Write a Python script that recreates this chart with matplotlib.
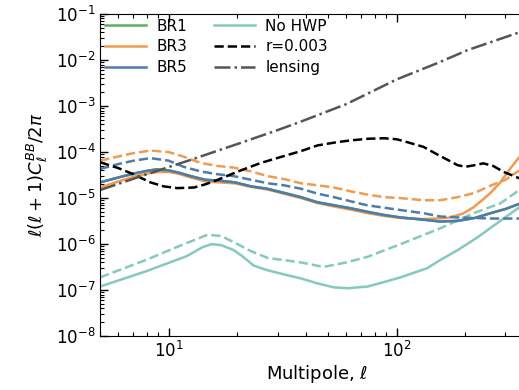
import numpy as np
import matplotlib
matplotlib.use('Agg')
import matplotlib.pyplot as plt
from matplotlib.ticker import LogLocator, NullFormatter

# --- values (multipole, D_ell^BB) ---
ell_lens = [5, 8, 12.5, 20, 30, 38, 60, 100, 150, 205, 345]
lensing = [1.5e-5, 3.3e-5, 6.8e-5, 1.5e-4, 3e-4, 4.6e-4, 1.1e-3, 3.8e-3, 8.5e-3, 1.65e-2, 4e-2]

ell_r = [5, 6, 7, 8.3, 9.5, 10.9, 12.9, 14.5, 16.4, 18.5, 20.7, 25.3, 32, 38, 45, 55,
         63, 75, 88, 100, 111, 131, 150, 167, 185, 200, 220, 240, 265, 295, 345]
r003 = [6e-5, 4.5e-5, 3.3e-5, 2.2e-5, 1.8e-5, 1.65e-5, 1.7e-5, 2e-5, 2.5e-5, 3.2e-5, 4e-5,
        5.8e-5, 8.2e-5, 1.05e-4, 1.4e-4, 1.65e-4, 1.8e-4, 1.95e-4, 2e-4, 1.9e-4, 1.65e-4,
        1.3e-4, 9e-5, 6.8e-5, 5.2e-5, 4.8e-5, 5.2e-5, 5.7e-5, 5e-5, 3.7e-5, 2.7e-5]

ell_br5 = [5, 6, 7, 8, 8.8, 10, 11, 12.5, 14.5, 16.6, 19.5, 23, 27, 32, 38, 45, 53, 63,
           75, 88, 104, 131, 155, 185, 220, 258, 300, 345]
br5_solid = [2.2e-5, 2.8e-5, 3.4e-5, 3.9e-5, 4.2e-5, 4e-5, 3.6e-5, 3e-5, 2.5e-5, 2.4e-5,
             2.2e-5, 1.8e-5, 1.6e-5, 1.3e-5, 1.05e-5, 8.1e-6, 7e-6, 6e-6, 5e-6, 4.3e-6,
             3.8e-6, 3.4e-6, 3.1e-6, 3.2e-6, 3.7e-6, 4.7e-6, 5.8e-6, 7.5e-6]
br1_solid = br5_solid  # hidden under BR5 in the reference

ell_dash = [5, 6, 7, 8.3, 10, 11.6, 13.8, 16.4, 19.3, 23, 27.2, 32, 38, 45, 53, 63, 74,
            88, 104, 131, 155, 185, 220, 260, 300, 345]
br5_dash = [4.3e-5, 5.5e-5, 6.5e-5, 7.4e-5, 6.5e-5, 4.8e-5, 3.8e-5, 3.3e-5, 3e-5, 2.5e-5,
            2.1e-5, 1.9e-5, 1.6e-5, 1.25e-5, 1.05e-5, 8.5e-6, 7e-6, 6.2e-6, 5.5e-6, 4.7e-6,
            4e-6, 3.8e-6, 3.7e-6, 3.6e-6, 3.6e-6, 3.6e-6]
br3_dash = [6.5e-5, 8e-5, 9.5e-5, 1.08e-4, 1e-4, 8e-5, 5.8e-5, 5e-5, 4.6e-5, 3.8e-5, 3e-5,
            2.6e-5, 2.1e-5, 1.9e-5, 1.7e-5, 1.4e-5, 1.2e-5, 1.05e-5, 1e-5, 9e-6, 9e-6,
            1.05e-5, 1.3e-5, 1.9e-5, 2.5e-5, 4e-5]

ell_br3 = [5, 6, 7, 8, 9, 10, 11, 12.5, 14.5, 16.6, 19.5, 23, 27, 32, 38, 45, 53, 63, 75,
           88, 104, 131, 167, 195, 217, 240, 258, 285, 316, 345]
br3_solid = [1.7e-5, 2.3e-5, 2.9e-5, 3.4e-5, 3.7e-5, 3.7e-5, 3.4e-5, 2.8e-5, 2.3e-5, 2.2e-5,
             2.1e-5, 1.75e-5, 1.55e-5, 1.25e-5, 1e-5, 7.8e-6, 6.6e-6, 5.6e-6, 4.7e-6,
             4.1e-6, 3.7e-6, 3.5e-6, 3.7e-6, 4.6e-6, 6.3e-6, 9.5e-6, 1.3e-5, 2.2e-5,
             4.5e-5, 7.8e-5]

ell_nohwp = [5, 8, 12, 14, 15.4, 17, 19.3, 21, 23.6, 27.2, 32, 38, 45, 53, 61, 74.5, 88,
             104, 136, 155, 185, 226, 277, 345]
nohwp_solid = [1.2e-7, 2.6e-7, 5.5e-7, 8.5e-7, 1e-6, 9.5e-7, 7.4e-7, 5.5e-7, 3.4e-7,
               2.7e-7, 2.2e-7, 1.8e-7, 1.4e-7, 1.15e-7, 1.1e-7, 1.2e-7, 1.5e-7, 1.9e-7,
               3e-7, 4.5e-7, 7.4e-7, 1.4e-6, 2.9e-6, 6.3e-6]
ell_nohwp_d = [5, 8, 11, 14.8, 17, 19.3, 23, 27.2, 32, 38, 47.8, 60, 74.5, 104, 155, 217,
               285, 345]
nohwp_dash = [1.9e-7, 4.6e-7, 8.9e-7, 1.6e-6, 1.5e-6, 1.1e-6, 7e-7, 5e-7, 4.5e-7, 4e-7,
              3.2e-7, 4e-7, 5.3e-7, 1e-6, 2.2e-6, 4.7e-6, 7.7e-6, 1.5e-5]

c_br1 = '#5cb15c'
c_br3 = '#f29a4e'
c_br5 = '#4f7bab'
c_nohwp = '#84cabc'

fig = plt.figure(figsize=(5.19, 3.90), dpi=100)
# the reference is cropped on the right, so the axes run to the figure edge
ax = fig.add_axes([0.193, 0.138, 0.807, 0.826])

lw = 1.8
ax.plot(ell_nohwp_d, nohwp_dash, color=c_nohwp, ls='--', lw=lw)
ax.plot(ell_nohwp, nohwp_solid, color=c_nohwp, lw=lw)
ax.plot(ell_br3, br3_solid, color=c_br3, lw=lw)
ax.plot(ell_dash, br3_dash, color=c_br3, ls='--', lw=lw)
ax.plot(ell_br5, br1_solid, color=c_br1, lw=lw)
ax.plot(ell_br5, br5_solid, color=c_br5, lw=lw)
ax.plot(ell_dash, br5_dash, color=c_br5, ls='--', lw=lw)
ax.plot(ell_r, r003, color='black', ls='--', lw=lw)
ax.plot(ell_lens, lensing, color='#555555', ls='-.', lw=lw)

# legend-only handles
h1, = ax.plot([], [], color=c_br1, lw=lw, label='BR1')
h3, = ax.plot([], [], color=c_br3, lw=lw, label='BR3')
h5, = ax.plot([], [], color=c_br5, lw=lw, label='BR5')
hn, = ax.plot([], [], color=c_nohwp, lw=lw, label='No HWP')
hr, = ax.plot([], [], color='black', ls='--', lw=lw, label='r=0.003')
hl, = ax.plot([], [], color='#555555', ls='-.', lw=lw, label='lensing')

ax.legend(handles=[h1, h3, h5, hn, hr, hl], ncol=2, loc='upper left', frameon=False,
          fontsize=11, handlelength=2.7, columnspacing=1.7, labelspacing=0.38,
          borderaxespad=0.05, borderpad=0.25, handletextpad=0.7)

ax.set_xscale('log')
ax.set_yscale('log')
ax.set_xlim(5, 344)
ax.set_ylim(1e-8, 1e-1)
ax.spines['right'].set_visible(False)
ax.tick_params(which='both', direction='in', top=True, right=False, labelsize=12)
ax.tick_params(which='major', length=6, width=1)
ax.tick_params(which='minor', length=3, width=0.8)
ax.yaxis.set_major_locator(LogLocator(base=10, numticks=10))
ax.yaxis.set_minor_locator(LogLocator(base=10, subs=np.arange(2, 10), numticks=20))
ax.xaxis.set_minor_formatter(NullFormatter())
ax.yaxis.set_minor_formatter(NullFormatter())

ax.set_xlabel(r'Multipole, $\ell$', fontsize=13, labelpad=1)
ax.xaxis.label.set_x(0.518)
ax.set_ylabel(r'$\ell(\ell+1)C_\ell^{BB}/2\pi$', fontsize=13)

fig.savefig('out.png', dpi=100)
